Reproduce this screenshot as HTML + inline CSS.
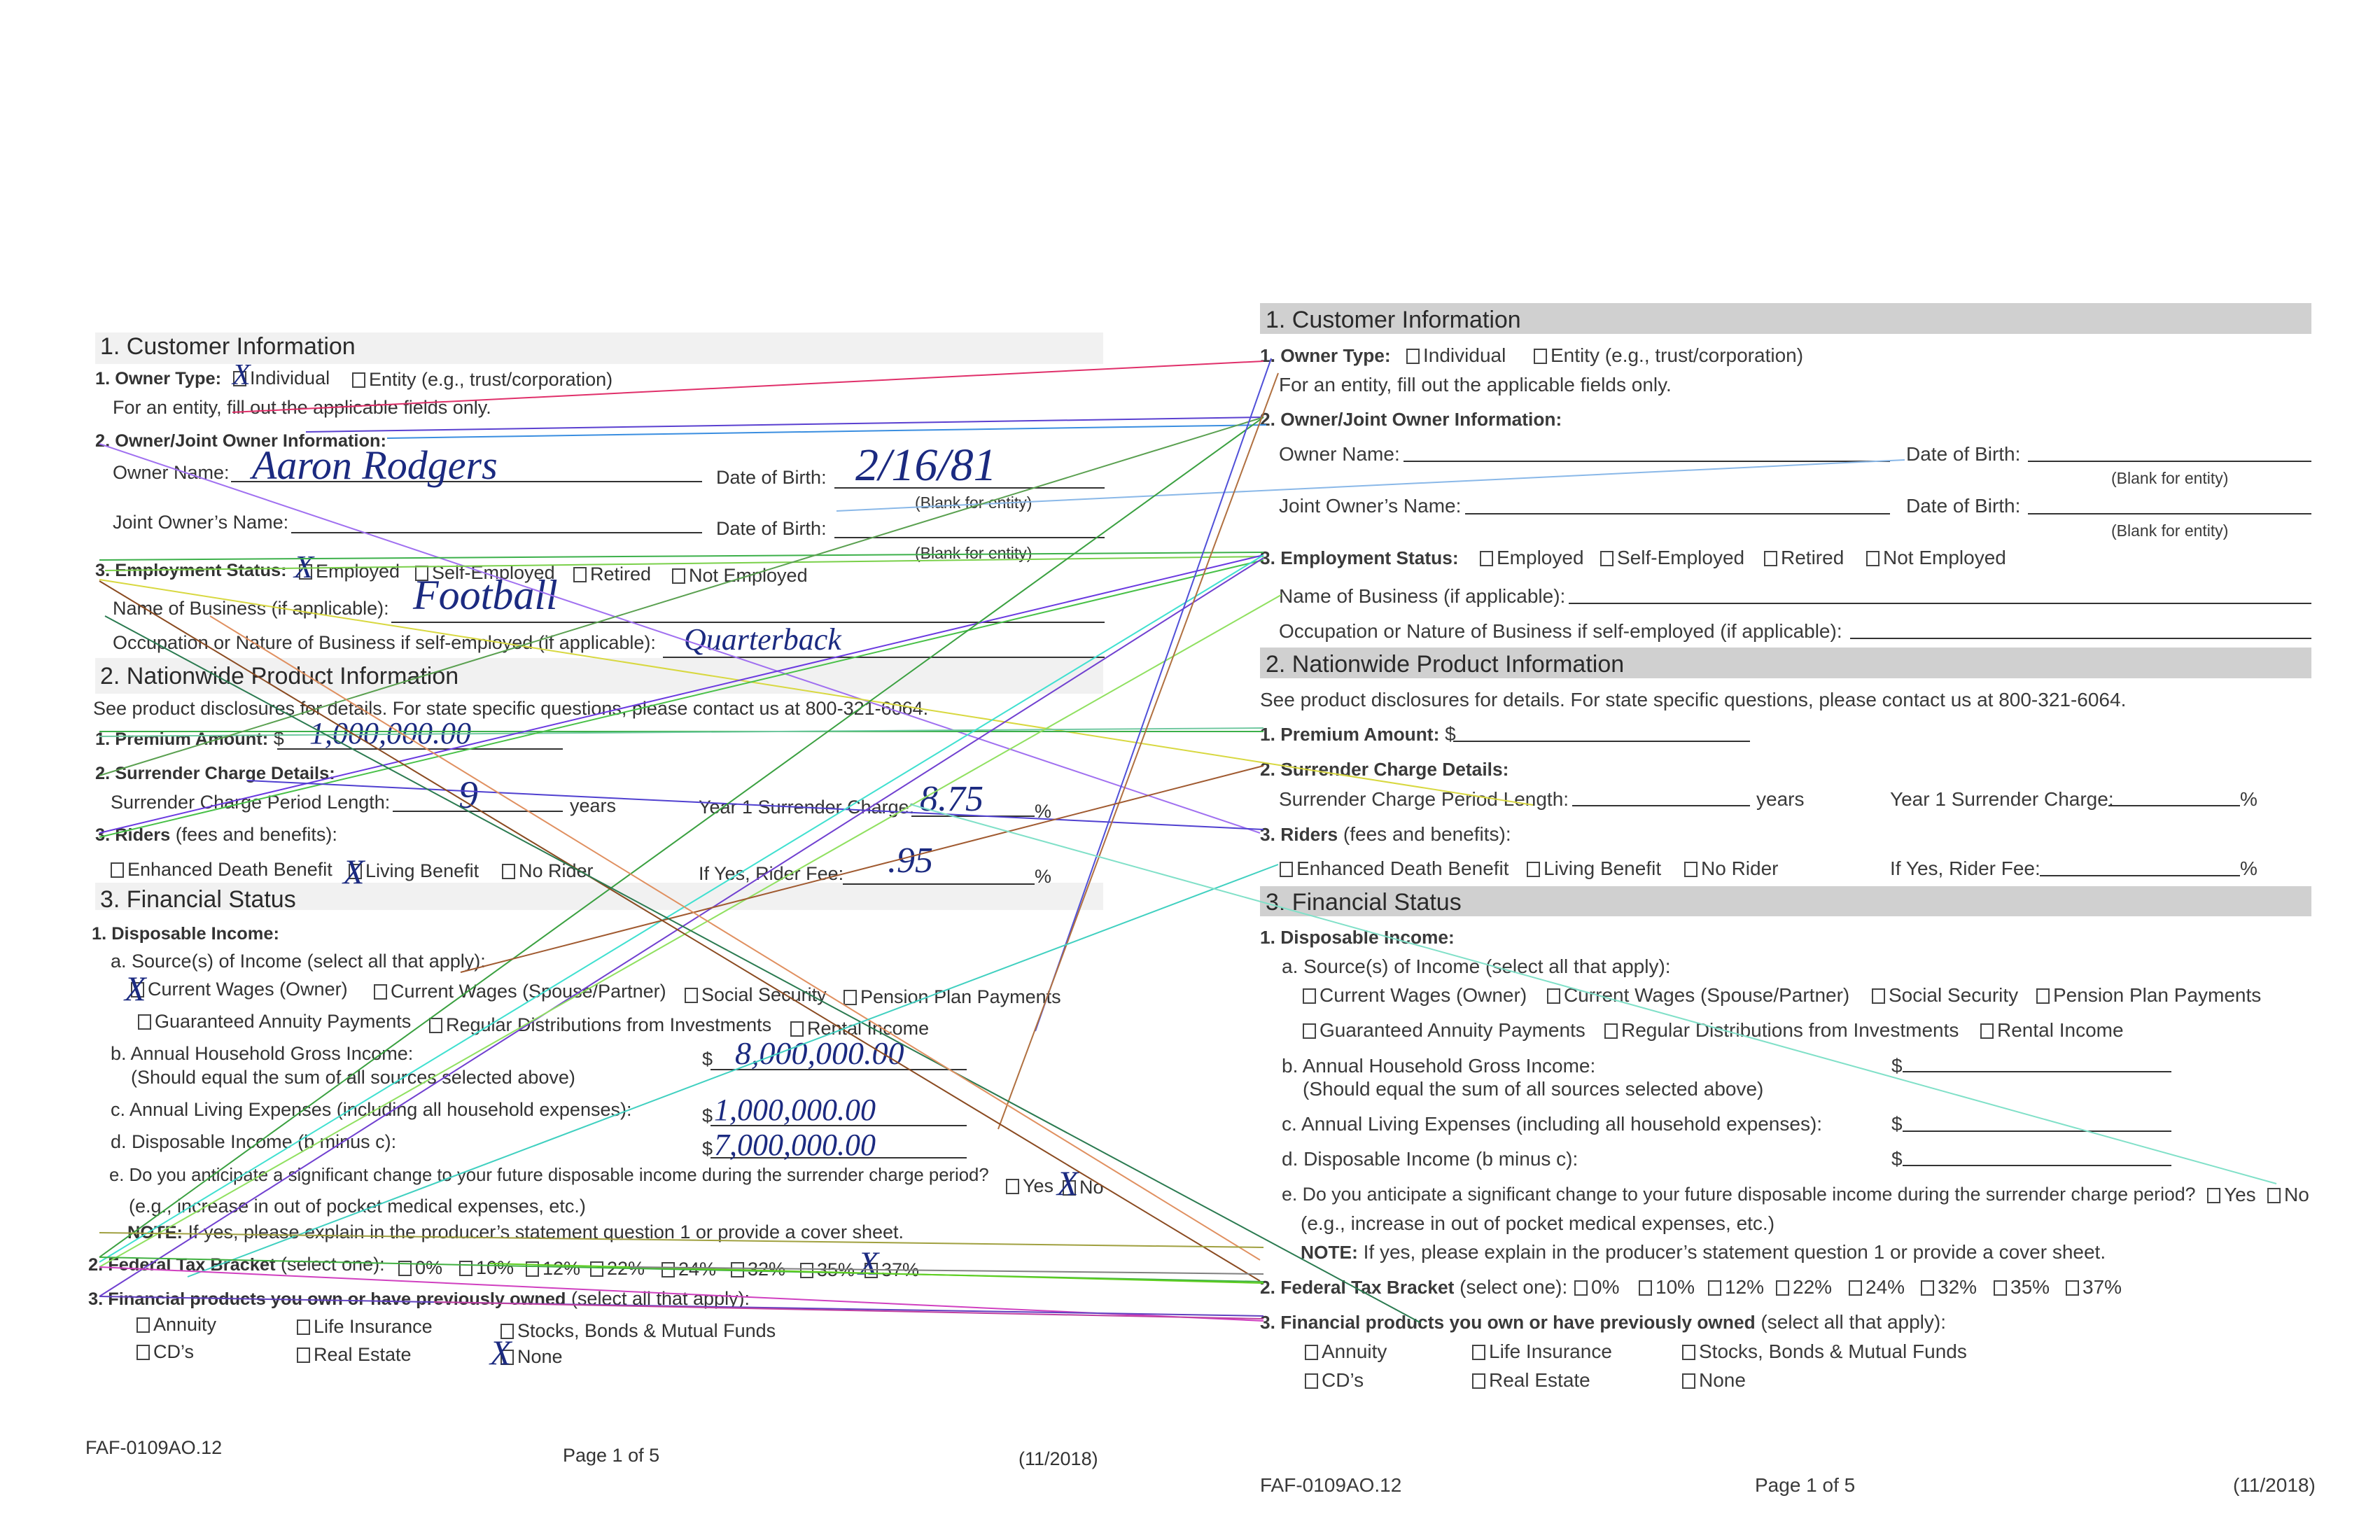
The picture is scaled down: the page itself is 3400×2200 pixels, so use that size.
<!DOCTYPE html>
<html><head><meta charset="utf-8">
<style>
html,body{margin:0;padding:0;background:#fff}
#p{position:relative;width:3400px;height:2200px;overflow:hidden;background:#fff;font-family:"Liberation Sans",sans-serif}
.t{position:absolute;white-space:nowrap;line-height:1;font-size:28px;color:#3a3a3a}
.L{color:#333;font-size:27px}
.h{font-size:34px;color:#2a2a2a}
.s{font-size:23px}
b,.b{font-weight:bold}
b{font-size:0.94em}
.cb{display:inline-block;width:19px;height:22px;border:2px solid #444;box-sizing:border-box;vertical-align:-3px;margin-right:5px}
.ln{position:absolute;height:0;border-top:2px solid #333}
.bar{position:absolute;background:#d0d0d0}
.band{position:absolute;background:#f1f1f1}
.hw{position:absolute;white-space:nowrap;line-height:1;font-family:"Liberation Serif",serif;font-style:italic;color:#1b2a80}
svg{position:absolute;left:0;top:0}
</style></head><body><div id="p">

<!-- LEFT (scanned) -->
<div class="band" style="left:136px;top:475px;width:1440px;height:45px"></div>
<div class="band" style="left:136px;top:940px;width:1440px;height:51px"></div>
<div class="band" style="left:136px;top:1261px;width:1440px;height:39px"></div>

<div class="t L h" style="left:143px;top:478px">1. Customer Information</div>
<div class="t L" style="left:136px;top:527px"><b>1. Owner Type:</b></div>
<div class="t L" style="left:333px;top:527px"><span class="cb"></span>Individual</div>
<div class="t L" style="left:503px;top:529px"><span class="cb"></span>Entity (e.g., trust/corporation)</div>
<div class="t L" style="left:161px;top:569px">For an entity, fill out the applicable fields only.</div>
<div class="t L" style="left:136px;top:616px"><b>2. Owner/Joint Owner Information:</b></div>
<div class="t L" style="left:161px;top:662px">Owner Name:</div>
<div class="ln" style="left:330px;top:687px;width:673px"></div>
<div class="t L" style="left:1023px;top:669px">Date of Birth:</div>
<div class="ln" style="left:1192px;top:696px;width:386px"></div>
<div class="t L s" style="left:1307px;top:707px">(Blank for entity)</div>
<div class="t L" style="left:161px;top:733px">Joint Owner’s Name:</div>
<div class="ln" style="left:416px;top:760px;width:587px"></div>
<div class="t L" style="left:1023px;top:742px">Date of Birth:</div>
<div class="ln" style="left:1192px;top:767px;width:386px"></div>
<div class="t L s" style="left:1307px;top:779px">(Blank for entity)</div>
<div class="t L" style="left:136px;top:801px"><b>3. Employment Status:</b></div>
<div class="t L" style="left:427px;top:803px"><span class="cb"></span>Employed</div>
<div class="t L" style="left:593px;top:805px"><span class="cb"></span>Self-Employed</div>
<div class="t L" style="left:819px;top:807px"><span class="cb"></span>Retired</div>
<div class="t L" style="left:960px;top:809px"><span class="cb"></span>Not Employed</div>
<div class="t L" style="left:161px;top:856px">Name of Business (if applicable):</div>
<div class="ln" style="left:559px;top:888px;width:1019px"></div>
<div class="t L" style="left:161px;top:905px">Occupation or Nature of Business if self-employed (if applicable):</div>
<div class="ln" style="left:947px;top:938px;width:631px"></div>
<div class="t L h" style="left:143px;top:949px">2. Nationwide Product Information</div>
<div class="t L" style="left:133px;top:999px">See product disclosures for details. For state specific questions, please contact us at 800-321-6064.</div>
<div class="t L" style="left:136px;top:1042px"><b>1. Premium Amount:</b> $</div>
<div class="ln" style="left:396px;top:1069px;width:408px"></div>
<div class="t L" style="left:136px;top:1091px"><b>2. Surrender Charge Details:</b></div>
<div class="t L" style="left:158px;top:1133px">Surrender Charge Period Length:</div>
<div class="ln" style="left:561px;top:1158px;width:243px"></div>
<div class="t L" style="left:814px;top:1138px">years</div>
<div class="t L" style="left:998px;top:1140px">Year 1 Surrender Charge:</div>
<div class="ln" style="left:1302px;top:1165px;width:176px"></div>
<div class="t L" style="left:1478px;top:1146px">%</div>
<div class="t L" style="left:136px;top:1179px"><b>3. Riders</b> (fees and benefits):</div>
<div class="t L" style="left:158px;top:1229px"><span class="cb"></span>Enhanced Death Benefit</div>
<div class="t L" style="left:498px;top:1231px"><span class="cb"></span>Living Benefit</div>
<div class="t L" style="left:717px;top:1231px"><span class="cb"></span>No Rider</div>
<div class="t L" style="left:998px;top:1235px">If Yes, Rider Fee:</div>
<div class="ln" style="left:1204px;top:1262px;width:274px"></div>
<div class="t L" style="left:1478px;top:1239px">%</div>
<div class="t L h" style="left:143px;top:1268px">3. Financial Status</div>
<div class="t L" style="left:131px;top:1320px"><b>1. Disposable Income:</b></div>
<div class="t L" style="left:158px;top:1360px">a. Source(s) of Income (select all that apply):</div>
<div class="t L" style="left:187px;top:1400px"><span class="cb"></span>Current Wages (Owner)</div>
<div class="t L" style="left:534px;top:1403px"><span class="cb"></span>Current Wages (Spouse/Partner)</div>
<div class="t L" style="left:978px;top:1408px"><span class="cb"></span>Social Security</div>
<div class="t L" style="left:1205px;top:1411px"><span class="cb"></span>Pension Plan Payments</div>
<div class="t L" style="left:197px;top:1446px"><span class="cb"></span>Guaranteed Annuity Payments</div>
<div class="t L" style="left:613px;top:1451px"><span class="cb"></span>Regular Distributions from Investments</div>
<div class="t L" style="left:1129px;top:1456px"><span class="cb"></span>Rental Income</div>
<div class="t L" style="left:158px;top:1492px">b. Annual Household Gross Income:</div>
<div class="t L" style="left:187px;top:1526px">(Should equal the sum of all sources selected above)</div>
<div class="t L" style="left:1003px;top:1500px">$</div>
<div class="ln" style="left:1015px;top:1527px;width:366px"></div>
<div class="t L" style="left:158px;top:1572px">c. Annual Living Expenses (including all household expenses):</div>
<div class="t L" style="left:1003px;top:1581px">$</div>
<div class="ln" style="left:1015px;top:1607px;width:366px"></div>
<div class="t L" style="left:158px;top:1618px">d. Disposable Income (b minus c):</div>
<div class="t L" style="left:1003px;top:1628px">$</div>
<div class="ln" style="left:1015px;top:1653px;width:366px"></div>
<div class="t L" style="left:156px;top:1667px;font-size:25.7px">e. Do you anticipate a significant change to your future disposable income during the surrender charge period?</div>
<div class="t L" style="left:1437px;top:1681px"><span class="cb"></span>Yes</div>
<div class="t L" style="left:1518px;top:1683px"><span class="cb"></span>No</div>
<div class="t L" style="left:184px;top:1710px">(e.g., increase in out of pocket medical expenses, etc.)</div>
<div class="t L" style="left:182px;top:1747px"><b>NOTE:</b> If yes, please explain in the producer’s statement question 1 or provide a cover sheet.</div>
<div class="t L" style="left:126px;top:1793px"><b>2. Federal Tax Bracket</b> (select one):</div>
<div class="t L" style="left:569px;top:1798px"><span class="cb"></span>0%</div>
<div class="t L" style="left:656px;top:1798px"><span class="cb"></span>10%</div>
<div class="t L" style="left:751px;top:1799px"><span class="cb"></span>12%</div>
<div class="t L" style="left:843px;top:1799px"><span class="cb"></span>22%</div>
<div class="t L" style="left:945px;top:1800px"><span class="cb"></span>24%</div>
<div class="t L" style="left:1044px;top:1800px"><span class="cb"></span>32%</div>
<div class="t L" style="left:1143px;top:1801px"><span class="cb"></span>35%</div>
<div class="t L" style="left:1235px;top:1801px"><span class="cb"></span>37%</div>
<div class="t L" style="left:126px;top:1842px"><b>3. Financial products you own or have previously owned</b> (select all that apply):</div>
<div class="t L" style="left:195px;top:1879px"><span class="cb"></span>Annuity</div>
<div class="t L" style="left:424px;top:1882px"><span class="cb"></span>Life Insurance</div>
<div class="t L" style="left:715px;top:1888px"><span class="cb"></span>Stocks, Bonds &amp; Mutual Funds</div>
<div class="t L" style="left:195px;top:1918px"><span class="cb"></span>CD’s</div>
<div class="t L" style="left:424px;top:1922px"><span class="cb"></span>Real Estate</div>
<div class="t L" style="left:715px;top:1925px"><span class="cb"></span>None</div>
<div class="t L" style="left:122px;top:2055px">FAF-0109AO.12</div>
<div class="t L" style="left:804px;top:2066px">Page 1 of 5</div>
<div class="t L" style="left:1455px;top:2071px">(11/2018)</div>

<!-- handwriting -->
<div class="hw" style="left:360px;top:636px;font-size:58px">Aaron Rodgers</div>
<div class="hw" style="left:1222px;top:632px;font-size:66px">2/16/81</div>
<div class="hw" style="left:590px;top:820px;font-size:60px">Football</div>
<div class="hw" style="left:977px;top:892px;font-size:44px">Quarterback</div>
<div class="hw" style="left:442px;top:1026px;font-size:44px">1,000,000.00</div>
<div class="hw" style="left:655px;top:1108px;font-size:56px">9</div>
<div class="hw" style="left:1314px;top:1116px;font-size:52px">8.75</div>
<div class="hw" style="left:1268px;top:1204px;font-size:52px">.95</div>
<div class="hw" style="left:1050px;top:1482px;font-size:46px">8,000,000.00</div>
<div class="hw" style="left:1020px;top:1564px;font-size:44px">1,000,000.00</div>
<div class="hw" style="left:1020px;top:1614px;font-size:44px">7,000,000.00</div>
<div class="hw" style="left:332px;top:515px;font-size:42px">X</div>
<div class="hw" style="left:420px;top:787px;font-size:46px">X</div>
<div class="hw" style="left:490px;top:1220px;font-size:50px">X</div>
<div class="hw" style="left:178px;top:1387px;font-size:50px">X</div>
<div class="hw" style="left:1510px;top:1665px;font-size:50px">X</div>
<div class="hw" style="left:1226px;top:1782px;font-size:48px">X</div>
<div class="hw" style="left:700px;top:1907px;font-size:50px">X</div>

<!-- RIGHT (clean) -->
<div class="bar" style="left:1800px;top:433px;width:1502px;height:44px"></div>
<div class="bar" style="left:1800px;top:925px;width:1502px;height:44px"></div>
<div class="bar" style="left:1800px;top:1266px;width:1502px;height:43px"></div>
<div class="t h" style="left:1808px;top:440px">1. Customer Information</div>
<div class="t" style="left:1800px;top:494px"><b>1. Owner Type:</b></div>
<div class="t" style="left:2009px;top:494px"><span class="cb"></span>Individual</div>
<div class="t" style="left:2191px;top:494px"><span class="cb"></span>Entity (e.g., trust/corporation)</div>
<div class="t" style="left:1827px;top:536px">For an entity, fill out the applicable fields only.</div>
<div class="t" style="left:1800px;top:585px"><b>2. Owner/Joint Owner Information:</b></div>
<div class="t" style="left:1827px;top:635px">Owner Name:</div>
<div class="ln" style="left:2005px;top:658px;width:695px"></div>
<div class="t" style="left:2723px;top:635px">Date of Birth:</div>
<div class="ln" style="left:2897px;top:658px;width:405px"></div>
<div class="t s" style="left:3016px;top:672px">(Blank for entity)</div>
<div class="t" style="left:1827px;top:709px">Joint Owner’s Name:</div>
<div class="ln" style="left:2093px;top:733px;width:607px"></div>
<div class="t" style="left:2723px;top:709px">Date of Birth:</div>
<div class="ln" style="left:2897px;top:733px;width:405px"></div>
<div class="t s" style="left:3016px;top:747px">(Blank for entity)</div>
<div class="t" style="left:1800px;top:783px"><b>3. Employment Status:</b></div>
<div class="t" style="left:2114px;top:783px"><span class="cb"></span>Employed</div>
<div class="t" style="left:2286px;top:783px"><span class="cb"></span>Self-Employed</div>
<div class="t" style="left:2520px;top:783px"><span class="cb"></span>Retired</div>
<div class="t" style="left:2666px;top:783px"><span class="cb"></span>Not Employed</div>
<div class="t" style="left:1827px;top:838px">Name of Business (if applicable):</div>
<div class="ln" style="left:2241px;top:861px;width:1061px"></div>
<div class="t" style="left:1827px;top:888px">Occupation or Nature of Business if self-employed (if applicable):</div>
<div class="ln" style="left:2643px;top:911px;width:659px"></div>
<div class="t h" style="left:1808px;top:932px">2. Nationwide Product Information</div>
<div class="t" style="left:1800px;top:986px">See product disclosures for details. For state specific questions, please contact us at 800-321-6064.</div>
<div class="t" style="left:1800px;top:1035px"><b>1. Premium Amount:</b> $</div>
<div class="ln" style="left:2076px;top:1058px;width:424px"></div>
<div class="t" style="left:1800px;top:1085px"><b>2. Surrender Charge Details:</b></div>
<div class="t" style="left:1827px;top:1128px">Surrender Charge Period Length:</div>
<div class="ln" style="left:2246px;top:1150px;width:254px"></div>
<div class="t" style="left:2509px;top:1128px">years</div>
<div class="t" style="left:2700px;top:1128px">Year 1 Surrender Charge:</div>
<div class="ln" style="left:3012px;top:1150px;width:188px"></div>
<div class="t" style="left:3200px;top:1128px">%</div>
<div class="t" style="left:1800px;top:1178px"><b>3. Riders</b> (fees and benefits):</div>
<div class="t" style="left:1828px;top:1227px"><span class="cb"></span>Enhanced Death Benefit</div>
<div class="t" style="left:2181px;top:1227px"><span class="cb"></span>Living Benefit</div>
<div class="t" style="left:2406px;top:1227px"><span class="cb"></span>No Rider</div>
<div class="t" style="left:2700px;top:1227px">If Yes, Rider Fee:</div>
<div class="ln" style="left:2914px;top:1250px;width:286px"></div>
<div class="t" style="left:3200px;top:1227px">%</div>
<div class="t h" style="left:1808px;top:1272px">3. Financial Status</div>
<div class="t" style="left:1800px;top:1325px"><b>1. Disposable Income:</b></div>
<div class="t" style="left:1831px;top:1367px">a. Source(s) of Income (select all that apply):</div>
<div class="t" style="left:1861px;top:1408px"><span class="cb"></span>Current Wages (Owner)</div>
<div class="t" style="left:2210px;top:1408px"><span class="cb"></span>Current Wages (Spouse/Partner)</div>
<div class="t" style="left:2674px;top:1408px"><span class="cb"></span>Social Security</div>
<div class="t" style="left:2909px;top:1408px"><span class="cb"></span>Pension Plan Payments</div>
<div class="t" style="left:1861px;top:1458px"><span class="cb"></span>Guaranteed Annuity Payments</div>
<div class="t" style="left:2292px;top:1458px"><span class="cb"></span>Regular Distributions from Investments</div>
<div class="t" style="left:2829px;top:1458px"><span class="cb"></span>Rental Income</div>
<div class="t" style="left:1831px;top:1509px">b. Annual Household Gross Income:</div>
<div class="t" style="left:1861px;top:1542px">(Should equal the sum of all sources selected above)</div>
<div class="t" style="left:2702px;top:1509px">$</div>
<div class="ln" style="left:2718px;top:1530px;width:384px"></div>
<div class="t" style="left:1831px;top:1592px">c. Annual Living Expenses (including all household expenses):</div>
<div class="t" style="left:2702px;top:1592px">$</div>
<div class="ln" style="left:2718px;top:1615px;width:384px"></div>
<div class="t" style="left:1831px;top:1642px">d. Disposable Income (b minus c):</div>
<div class="t" style="left:2702px;top:1642px">$</div>
<div class="ln" style="left:2718px;top:1664px;width:384px"></div>
<div class="t" style="left:1831px;top:1693px;font-size:26.7px">e. Do you anticipate a significant change to your future disposable income during the surrender charge period?</div>
<div class="t" style="left:3153px;top:1693px"><span class="cb"></span>Yes</div>
<div class="t" style="left:3239px;top:1693px"><span class="cb"></span>No</div>
<div class="t" style="left:1858px;top:1734px">(e.g., increase in out of pocket medical expenses, etc.)</div>
<div class="t" style="left:1858px;top:1775px"><b>NOTE:</b> If yes, please explain in the producer’s statement question 1 or provide a cover sheet.</div>
<div class="t" style="left:1800px;top:1825px"><b>2. Federal Tax Bracket</b> (select one):</div>
<div class="t" style="left:2249px;top:1825px"><span class="cb"></span>0%</div>
<div class="t" style="left:2341px;top:1825px"><span class="cb"></span>10%</div>
<div class="t" style="left:2440px;top:1825px"><span class="cb"></span>12%</div>
<div class="t" style="left:2537px;top:1825px"><span class="cb"></span>22%</div>
<div class="t" style="left:2641px;top:1825px"><span class="cb"></span>24%</div>
<div class="t" style="left:2744px;top:1825px"><span class="cb"></span>32%</div>
<div class="t" style="left:2848px;top:1825px"><span class="cb"></span>35%</div>
<div class="t" style="left:2951px;top:1825px"><span class="cb"></span>37%</div>
<div class="t" style="left:1800px;top:1875px"><b>3. Financial products you own or have previously owned</b> (select all that apply):</div>
<div class="t" style="left:1864px;top:1917px"><span class="cb"></span>Annuity</div>
<div class="t" style="left:2103px;top:1917px"><span class="cb"></span>Life Insurance</div>
<div class="t" style="left:2403px;top:1917px"><span class="cb"></span>Stocks, Bonds &amp; Mutual Funds</div>
<div class="t" style="left:1864px;top:1958px"><span class="cb"></span>CD’s</div>
<div class="t" style="left:2103px;top:1958px"><span class="cb"></span>Real Estate</div>
<div class="t" style="left:2403px;top:1958px"><span class="cb"></span>None</div>
<div class="t" style="left:1800px;top:2108px">FAF-0109AO.12</div>
<div class="t" style="left:2507px;top:2108px">Page 1 of 5</div>
<div class="t" style="left:3190px;top:2108px">(11/2018)</div>

<!-- match lines -->
<svg width="3400" height="2200" viewBox="0 0 3400 2200" fill="none" stroke-width="2">
<line x1="332" y1="589" x2="1805" y2="516" stroke="#e0306a"/>
<line x1="553" y1="626" x2="1809" y2="607" stroke="#3a8ee0"/>
<line x1="437" y1="617" x2="1805" y2="596" stroke="#5a40d0"/>
<line x1="1195" y1="730" x2="2721" y2="657" stroke="#8ab8e8"/>
<line x1="142" y1="634" x2="1800" y2="1190" stroke="#a070f0"/>
<line x1="142" y1="800" x2="1805" y2="789" stroke="#3cb04a"/>
<line x1="150" y1="815" x2="1805" y2="795" stroke="#7ad04a"/>
<line x1="142" y1="828" x2="2190" y2="1150" stroke="#d8d840"/>
<line x1="142" y1="1045" x2="1805" y2="1045" stroke="#3cb04a"/>
<line x1="142" y1="1052" x2="1805" y2="1040" stroke="#70c8a0"/>
<line x1="142" y1="1190" x2="1805" y2="793" stroke="#6a3ae0"/>
<line x1="142" y1="1196" x2="1805" y2="800" stroke="#48c048"/>
<line x1="142" y1="1108" x2="1805" y2="596" stroke="#5aa050"/>
<line x1="353" y1="1115" x2="1805" y2="1185" stroke="#5040d0"/>
<line x1="142" y1="1796" x2="1805" y2="596" stroke="#3aa040"/>
<line x1="142" y1="1803" x2="1805" y2="793" stroke="#40e0d0"/>
<line x1="142" y1="1852" x2="1805" y2="797" stroke="#7040d0"/>
<line x1="142" y1="1810" x2="1830" y2="850" stroke="#90e060"/>
<line x1="1479" y1="1473" x2="1816" y2="512" stroke="#5050d8"/>
<line x1="1426" y1="1613" x2="1826" y2="533" stroke="#b07040"/>
<line x1="658" y1="1389" x2="1805" y2="1094" stroke="#a05a30"/>
<line x1="142" y1="830" x2="1800" y2="1830" stroke="#8a4a20"/>
<line x1="150" y1="880" x2="2030" y2="1890" stroke="#2a7a50"/>
<line x1="300" y1="880" x2="1800" y2="1800" stroke="#e09060"/>
<line x1="268" y1="1824" x2="1826" y2="1235" stroke="#40d0c0"/>
<line x1="1300" y1="1149" x2="3252" y2="1691" stroke="#80e0c8"/>
<line x1="142" y1="1761" x2="1805" y2="1782" stroke="#a0a040"/>
<line x1="142" y1="1796" x2="1805" y2="1831" stroke="#40b040"/>
<line x1="700" y1="1805" x2="1805" y2="1833" stroke="#60d020"/>
<line x1="142" y1="1810" x2="1805" y2="1887" stroke="#d040c0"/>
<line x1="142" y1="1852" x2="1805" y2="1880" stroke="#6040c0"/>
<line x1="620" y1="1860" x2="1805" y2="1884" stroke="#c040a0"/>
<line x1="900" y1="1810" x2="1805" y2="1820" stroke="#808080"/>
</svg>
</div></body></html>
